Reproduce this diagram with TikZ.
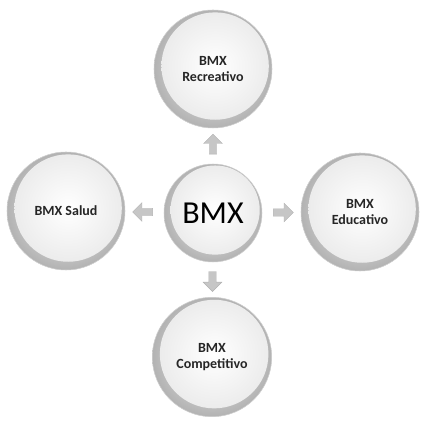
\documentclass[tikz,border=0pt]{standalone}
\usepackage{fontspec}
\setmainfont{Carlito}
\usetikzlibrary{shapes.arrows,calc}
\tikzset{
  bubble/.style={circle, minimum size=#1, inner sep=0pt, draw=gray!35, line width=0.4pt,
    fill=gray!45,
    path picture={
      \shade[inner color=gray!10, outer color=gray!60]
        (path picture bounding box.center) circle[radius=#1*0.5];
      \shade[inner color=white, outer color=gray!15]
        ($(path picture bounding box.center)+(1.6pt,2.2pt)$) circle[radius=#1*0.455];
    }},
  lbl/.style={font=\bfseries\fontsize{10.5}{12}\selectfont, align=center, text=black!85},
  blockarrow/.style={single arrow, draw=gray!60, fill=gray!45, line width=0.3pt,
    minimum height=15pt, minimum width=14pt, single arrow head extend=2.5pt, inner sep=1.5pt,
    shape border rotate=#1}
}
\begin{document}
\begin{tikzpicture}[x=0.75pt,y=-0.75pt]
\useasboundingbox (0,0) rectangle (429,427);
\node[bubble=73.5pt, font=\fontsize{24}{26}\selectfont] (c) at (213,213) {BMX};
\node[bubble=88.5pt, lbl] (t) at (213,69) {BMX\\Recreativo};
\node[bubble=88.5pt, lbl] (l) at (66,211) {BMX Salud};
\node[bubble=88.5pt, lbl] (r) at (360,212) {BMX\\Educativo};
\node[bubble=89.5pt, lbl] (b) at (212,357) {BMX\\Competitivo};
\node[blockarrow=90] (at) at ($(c.north)!0.5!(t.south)$) {};
\node[blockarrow=180] (al) at ($(c.west)!0.5!(l.east)$) {};
\node[blockarrow=0] (ar) at ($(c.east)!0.5!(r.west)$) {};
\node[blockarrow=270] (ab) at ($(c.south)!0.5!(b.north)$) {};
\end{tikzpicture}
\end{document}
